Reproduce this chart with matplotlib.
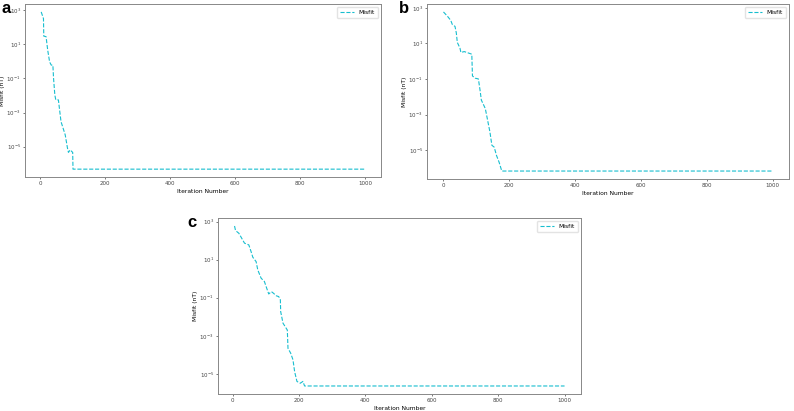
import matplotlib
matplotlib.use("Agg")
import matplotlib.pyplot as plt
from matplotlib.ticker import FixedLocator, LogFormatterSciNotation, NullLocator

# best misfit per iteration (vertices of the curve)
iter_a = [3, 10, 11, 18, 23, 29, 34, 39, 41, 45, 48, 56, 64, 77, 84, 87, 92, 100, 101, 1000]
misfit_a = [7.9e2, 3.2e2, 30, 28, 4.6, 0.91, 0.60, 0.60, 0.105, 1.07e-2, 5.5e-3, 5.5e-3,
            2.95e-4, 4.9e-5, 8.1e-6, 4.6e-6, 6.5e-6, 4.6e-6, 4.8e-7, 4.8e-7]

iter_b = [1, 13, 23, 28, 36, 40, 43, 51, 54, 64, 87, 89, 97, 107, 112, 116, 128, 135,
          142, 148, 155, 162, 170, 178, 1000]
misfit_b = [5.9e2, 3.4e2, 2.0e2, 1.15e2, 91, 39, 11.5, 5.5, 3.1, 3.5, 2.5, 0.15, 0.112,
            0.102, 2.4e-2, 6.6e-3, 2.2e-3, 4.9e-4, 1.07e-4, 1.9e-5, 1.5e-5, 5.1e-6,
            2.1e-6, 6.8e-7, 6.8e-7]

iter_c = [6, 9, 19, 26, 36, 49, 56, 61, 71, 76, 86, 96, 102, 109, 117, 123, 132, 139,
          144, 145, 152, 165, 167, 175, 182, 187, 194, 204, 212, 217, 1000]
misfit_c = [5.9e2, 3.4e2, 2.45e2, 1.5e2, 74, 60, 26, 13.5, 7.9, 2.9, 1.07, 0.71, 0.35,
            0.158, 0.21, 0.174, 0.126, 0.115, 7.8e-2, 1.86e-2, 4.6e-3, 2.0e-3, 2.2e-4,
            1.23e-4, 5.5e-5, 1.3e-5, 4.0e-6, 3.2e-6, 4.0e-6, 2.3e-6, 2.3e-6]

panel_labels = ["a", "b", "c"]
y_ticks = [1e3, 1e1, 1e-1, 1e-3, 1e-5]
x_ticks = [0, 200, 400, 600, 800, 1000]

fig = plt.figure(figsize=(7.94, 4.11), dpi=100)
positions = [
    [0.0315, 0.5693, 0.4484, 0.4209],
    [0.5378, 0.5645, 0.4559, 0.4258],
    [0.2746, 0.0414, 0.4572, 0.4282],
]
letter_pos = [(0.002, 0.998), (0.502, 0.998), (0.236, 0.478)]
series = [(iter_a, misfit_a), (iter_b, misfit_b), (iter_c, misfit_c)]

for pos, (its, vals), label, lpos in zip(positions, series, panel_labels, letter_pos):
    ax = fig.add_axes(pos)
    ax.plot(its, vals, linestyle="--", color="#17becf", linewidth=0.8, label="Misfit")
    ax.set_yscale("log")
    ax.yaxis.set_major_locator(FixedLocator(y_ticks))
    ax.yaxis.set_major_formatter(LogFormatterSciNotation())
    ax.yaxis.set_minor_locator(NullLocator())
    ax.set_xticks(x_ticks)
    ax.tick_params(labelsize=4, length=1.5, width=0.5, pad=1.5, colors="#444444")
    for spine in ax.spines.values():
        spine.set_linewidth(0.7)
        spine.set_color("#888888")
    ax.set_xlabel("Iteration Number", fontsize=4.3, labelpad=2)
    ax.set_ylabel("Misfit (nT)", fontsize=4.3, labelpad=1)
    ax.legend(loc="upper right", fontsize=4.3, handlelength=2.4, framealpha=0.8,
              edgecolor="#dddddd", borderpad=0.5)
    fig.text(lpos[0], lpos[1], label, fontsize=12, fontweight="bold",
             family=["Liberation Sans", "DejaVu Sans"], va="top", ha="left")

fig.savefig("out.png", dpi=100)
